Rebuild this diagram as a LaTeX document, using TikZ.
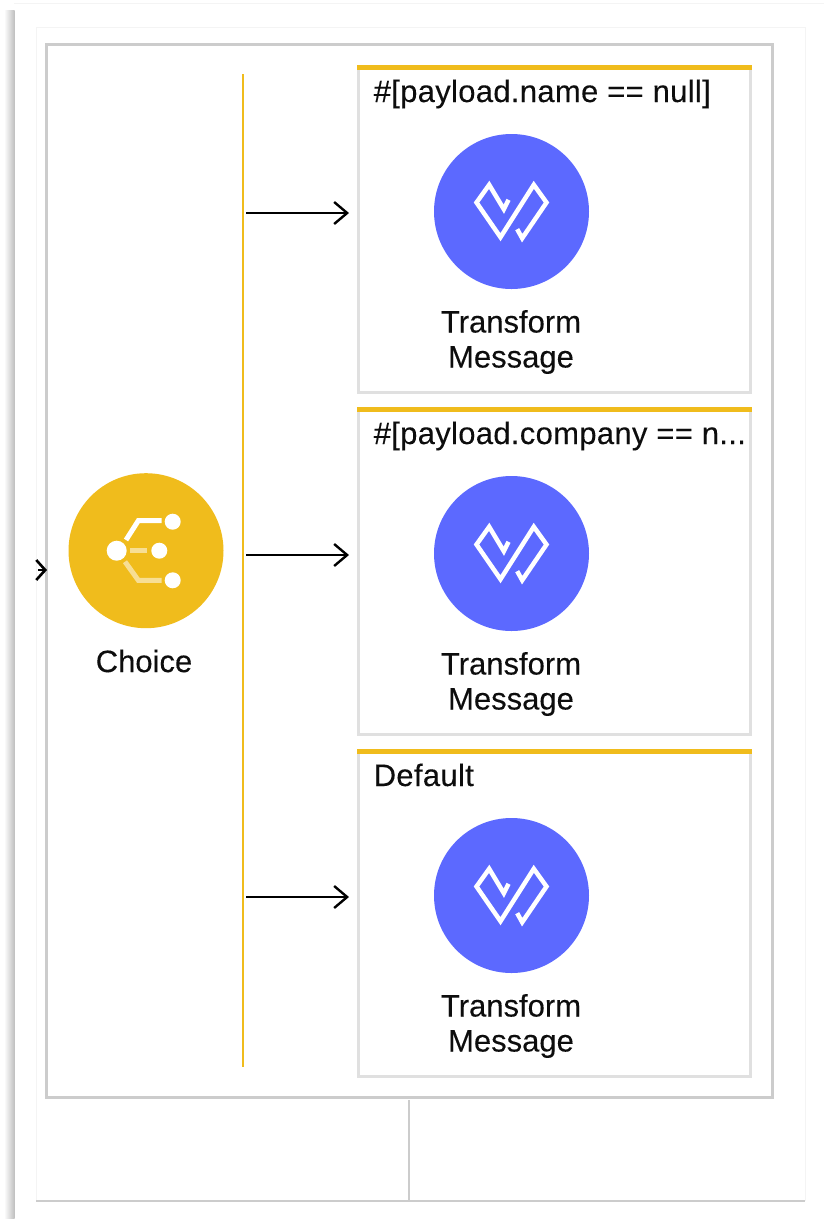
\documentclass[tikz,border=0pt]{standalone}
\usepackage{fontspec}
\setmainfont[FakeBold=0.15]{Liberation Sans}
\newfontfamily\headfont[LetterSpace=1,FakeBold=0.15]{Liberation Sans}
\usetikzlibrary{arrows.meta}
\definecolor{framegray}{HTML}{CCCCCC}
\definecolor{boxgray}{HTML}{E0E0E0}
\definecolor{faintgray}{HTML}{F4F4F4}
\definecolor{railyellow}{HTML}{F0BC1C}
\definecolor{paleyellow}{HTML}{F7DE94}
\definecolor{dwblue}{HTML}{5C69FF}
\tikzset{
  x=1pt,y=-1pt,
  framebox/.style={draw=framegray,line width=3pt},
  casebox/.style={draw=boxgray,line width=3pt},
  casebar/.style={fill=railyellow,draw=none},
  rail/.style={draw=railyellow,line width=2.6pt},
  flow/.style={draw=black,line width=2pt,-{Straight Barb[length=13pt,width=22pt,line width=2.4pt]}},
  inflow/.style={draw=black,line width=2pt,-{Straight Barb[length=9pt,width=20pt,line width=2.6pt]}},
  labeltext/.style={font=\fontsize{31}{35}\selectfont,align=center,inner sep=0pt,text=black!95},
  headtext/.style={font=\headfont\fontsize{31}{34}\selectfont,anchor=base west,inner sep=0pt,text=black!95},
  dwcircle/.style={circle,fill=dwblue,draw=none,minimum size=155pt,inner sep=0pt},
  dwglyph/.style={draw=white,line width=4.5pt,miter limit=10,line join=miter},
  chline/.style={line width=5pt},
  chdot/.style={fill=white,draw=none}
}
\newcommand{\dwicon}[2]{%
  \begin{scope}[shift={(#1,#2)}]
    \draw[dwglyph] (-3,-11.7) -- (-7.7,-2.3) -- (-22.3,-26.7) -- (-35,-9) -- (-11,25.7) -- (22.3,-26.7) -- (35,-9) -- (10.7,26.7) -- (5.7,17.7);
  \end{scope}}
\begin{document}
\begin{tikzpicture}
\useasboundingbox (0,0) rectangle (824,1219);
\fill[white] (0,0) rectangle (824,1219);
% window shadow
\shade[left color=white,right color=black!25,shading angle=90,draw=none] (4,10) rectangle (14.5,1219);
\fill[white] (14.5,10) rectangle (824,1219);
\draw[faintgray,line width=1pt] (14,3.5) -- (824,3.5);
\draw[faintgray,line width=1pt] (36.5,1201) -- (36.5,27.5) -- (805,27.5) -- (805,1201);
% outer frame
\node[framebox,minimum width=726pt,minimum height=1053pt,inner sep=0pt] (frame) at (409,570.5) {};
\coordinate (stemtop) at (409,1100);
\coordinate (stemend) at (409,1201);
\coordinate (baseL) at (36,1201);
\coordinate (baseR) at (805,1201);
\draw[framegray,line width=2pt] (stemtop) -- (stemend);
\draw[framegray,line width=1.5pt] (baseL) -- (baseR);
% rail
\coordinate (railtop) at (243,74);
\coordinate (railend) at (243,1067);
\draw[rail] (railtop) -- (railend);
% case boxes
\node[casebox,minimum width=392pt,minimum height=326pt,inner sep=0pt] (caseA) at (554.5,229) {};
\node[casebox,minimum width=392pt,minimum height=326pt,inner sep=0pt] (caseB) at (554.5,571) {};
\node[casebox,minimum width=392pt,minimum height=326pt,inner sep=0pt] (caseC) at (554.5,913) {};
\fill[casebar] (357,64.5) rectangle (752,70);
\fill[casebar] (357,406.5) rectangle (752,412);
\fill[casebar] (357,748.5) rectangle (752,754);
\node[headtext] (headA) at (373.5,102) {\#[payload.name == null]};
\node[headtext] (headB) at (373.5,444) {\#[payload.company == n...};
\node[headtext] (headC) at (373.5,786) {Default};
% arrows
\coordinate (a1) at (246,213); \coordinate (b1) at (349,213);
\coordinate (a2) at (246,555); \coordinate (b2) at (349,555);
\coordinate (a3) at (246,897); \coordinate (b3) at (349,897);
\coordinate (inA) at (38,570); \coordinate (inB) at (47,570);
\draw[flow] (a1) -- (b1);
\draw[flow] (a2) -- (b2);
\draw[flow] (a3) -- (b3);
\draw[inflow] (inA) -- (inB);
% choice
\node[circle,fill=railyellow,draw=none,minimum size=155pt,inner sep=0pt] (choice) at (146,550.7) {};
\draw[white,chline] (126,540) -- (138.3,520.7) -- (161.7,520.7);
\draw[paleyellow,chline] (125,561.7) -- (138.3,580.3) -- (161.7,580.3);
\draw[paleyellow,chline] (130,550.7) -- (147.3,550.7);
\fill[chdot] (116.7,550.7) circle (10);
\fill[chdot] (159.3,550.7) circle (8);
\fill[chdot] (172.7,521.7) circle (8);
\fill[chdot] (172.7,580.3) circle (8);
\node[labeltext] (choicelabel) at (144,661) {Choice};
% transforms
\node[dwcircle] (tmA) at (511.5,211.5) {};
\node[dwcircle] (tmB) at (511.5,553.5) {};
\node[dwcircle] (tmC) at (511.5,895.5) {};
\dwicon{511.5}{211.5}
\dwicon{511.5}{553.5}
\dwicon{511.5}{895.5}
\node[labeltext] (labelA) at (511,342) {Transform\\Message};
\node[labeltext] (labelB) at (511,684) {Transform\\Message};
\node[labeltext] (labelC) at (511,1026) {Transform\\Message};
\end{tikzpicture}
\end{document}
